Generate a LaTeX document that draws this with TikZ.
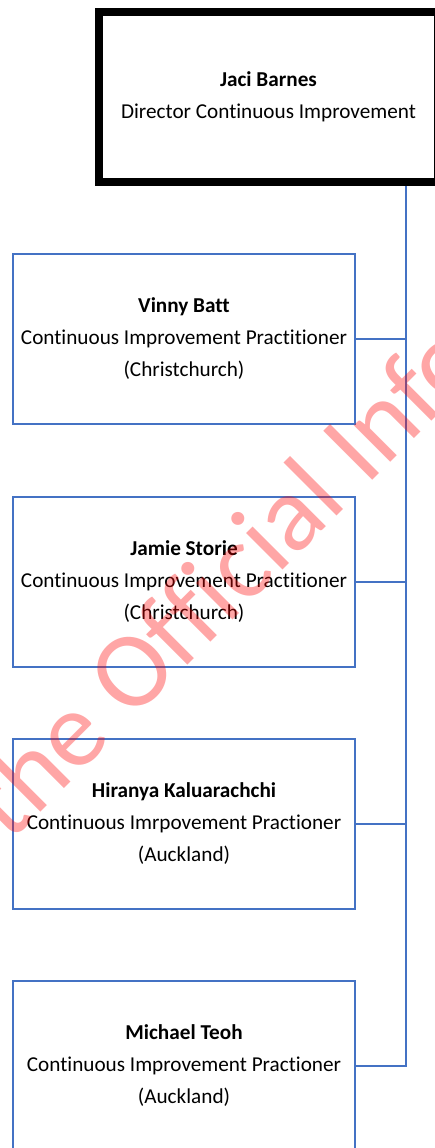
\documentclass[tikz,border=0pt]{standalone}
\usepackage{fontspec}
\setmainfont{Carlito}[Ligatures={NoCommon}]
\usepackage{tikz}
\usetikzlibrary{calc}
\definecolor{orgblue}{RGB}{68,114,196}

\begin{document}
\begin{tikzpicture}[x=1pt, y=-1pt,
  every node/.style={font=\fontsize{21.2}{32}\selectfont},
  headbox/.style={draw=black, line width=8pt, rectangle, minimum width=339pt, minimum height=170pt, align=center, inner sep=0pt},
  staffbox/.style={draw=orgblue, line width=2.5pt, rectangle, minimum width=342pt, minimum height=170pt, align=center, inner sep=0pt},
  stamp/.style={rotate=45, inner sep=0pt, text=red, text opacity=0.35, font=\fontsize{108}{108}\selectfont},
  link/.style={draw=orgblue, line width=2.5pt}]
  \useasboundingbox (0,0) rectangle (435,1148);

  % Director
  \node[headbox] (director) at (268.5,97) {\textbf{Jaci Barnes}\\Director Continuous Improvement};

  % Practitioners
  \node[staffbox] (vinny) at (184,339) {\textbf{Vinny Batt}\\Continuous Improvement Practitioner\\(Christchurch)};
  \node[staffbox] (jamie) at (184,582) {\textbf{Jamie Storie}\\Continuous Improvement Practitioner\\(Christchurch)};
  \node[staffbox] (hiranya) at (184,824) {\textbf{Hiranya Kaluarachchi}\\Continuous Imrpovement Practioner\\(Auckland)};
  \node[staffbox] (michael) at (184,1066) {\textbf{Michael Teoh}\\Continuous Improvement Practioner\\(Auckland)};

  % Reporting lines
  \coordinate (trunk) at (406,0);
  \draw[link] (director.south -| trunk) -- (michael.east -| trunk) -- (michael.east);
  \foreach \who in {vinny,jamie,hiranya}
    \draw[link] (\who.east) -- (\who.east -| trunk);

  % Watermark (see-through, on top)
  \begin{scope}
    \clip (0,0) rectangle (435,1148);
    \coordinate (stampO) at (131,722);
    \node[stamp, anchor=base west] (stampright) at (stampO) {Official Information Act};
    \node[stamp, anchor=base east] (stampleft) at ($(stampO)+(-17.3,17.3)$) {Released under the};
  \end{scope}

\end{tikzpicture}
\end{document}
